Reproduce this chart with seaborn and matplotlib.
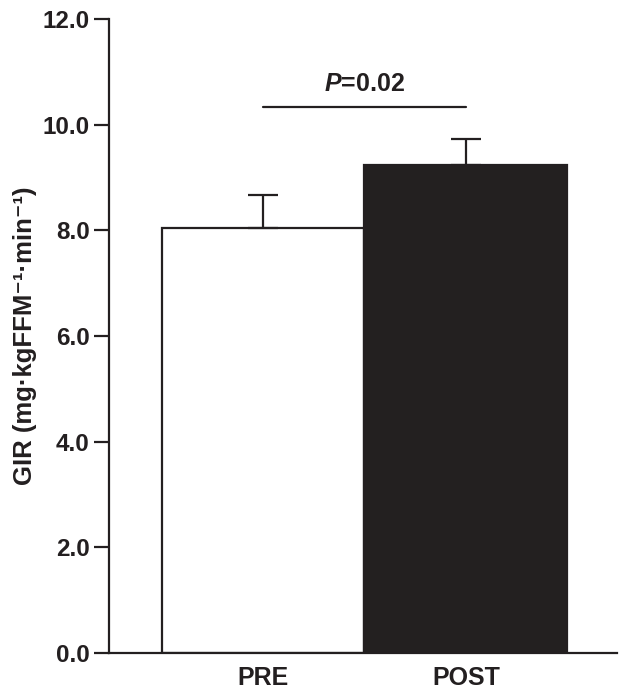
import matplotlib
matplotlib.use("Agg")
import matplotlib.pyplot as plt
import seaborn as sns
import pandas as pd

# values
groups = ["PRE", "POST"]
gir_mean = [8.05, 9.24]
gir_sem = [0.61, 0.49]
bar_colors = ["white", "#231f20"]
y_ticks = [0, 2, 4, 6, 8, 10, 12]
p_label = "=0.02"
sig_y = 10.34

sns.set_theme(style="ticks")
plt.rcParams["font.family"] = ["Liberation Sans", "DejaVu Sans"]
plt.rcParams["mathtext.fontset"] = "custom"
plt.rcParams["mathtext.bfit"] = "Liberation Sans:italic:bold"
plt.rcParams["mathtext.it"] = "Liberation Sans:italic:bold"

df = pd.DataFrame({"group": groups, "gir": gir_mean})

fig = plt.figure(figsize=(6.24, 6.95), dpi=100)
ax = fig.add_axes([0.1747, 0.0604, 0.8143, 0.9123])

sns.barplot(data=df, x="group", y="gir", hue="group", palette=bar_colors,
            order=groups, width=1.0, edgecolor="#231f20", linewidth=1.6,
            legend=False, errorbar=None, ax=ax)

# upper-only SEM bars
ax.errorbar(range(len(groups)), gir_mean, yerr=[[0] * len(groups), gir_sem],
            fmt="none", ecolor="#231f20", elinewidth=1.6, capsize=10.5,
            capthick=1.6, zorder=1)

# significance bracket
ax.plot([0, 1], [sig_y, sig_y], color="#231f20", lw=1.6)
ax.text(0.5, sig_y + 0.2, r"$\mathit{P}$" + p_label, ha="center", va="bottom",
        fontsize=18, fontweight="bold", color="#231f20")

ax.set_xlim(-0.76, 1.746)
ax.set_ylim(0, 12)
ax.set_yticks(y_ticks)
ax.set_yticklabels([f"{t:.1f}" for t in y_ticks])
ax.set_xlabel("")
ax.set_ylabel("GIR (mg·kgFFM⁻¹·min⁻¹)", fontsize=18.5, fontweight="bold",
              labelpad=4, color="#231f20")

sns.despine(ax=ax)
for side in ["left", "bottom"]:
    ax.spines[side].set_linewidth(1.6)
    ax.spines[side].set_color("#231f20")
ax.tick_params(axis="y", length=11, width=1.6, labelsize=17.5, pad=3,
               colors="#231f20")
ax.tick_params(axis="x", length=0, labelsize=18, pad=9, colors="#231f20")
for lab in ax.get_xticklabels() + ax.get_yticklabels():
    lab.set_fontweight("bold")

fig.savefig("out.png", dpi=100)
